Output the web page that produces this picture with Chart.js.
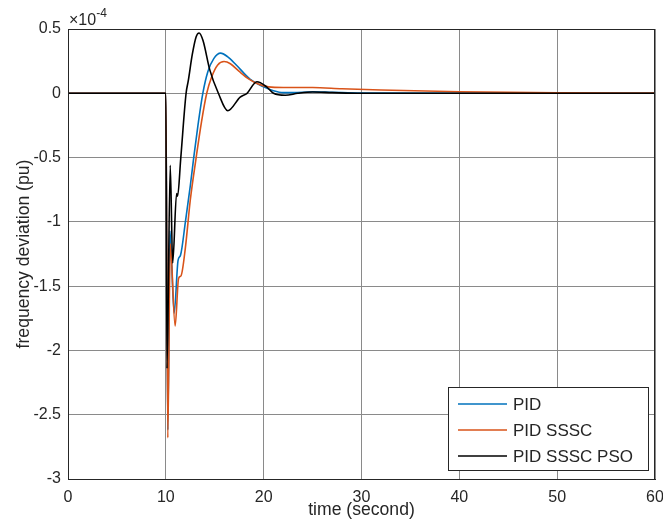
<!DOCTYPE html>
<html lang="en">

<head>
    <meta charset="UTF-8">
    <title>Frequency Deviation</title>
    <script src="https://cdn.jsdelivr.net/npm/chart.js"></script>
    <style>
        body {
            margin: 0;
            padding: 0;
            background-color: #fff;
        }

        #chartContainer {
            width: 663px;
            height: 522px;
        }
    </style>
</head>

<body>
    <div id="chartContainer">
        <canvas id="chart"></canvas>
    </div>

    <script>
        // values are in units of 1e-4 pu
        const pidTime = [0, 10, 10.2, 10.42, 10.85, 11.25, 11.5, 12.0, 12.5, 12.85, 13.3, 13.78, 14.3, 14.9, 15.6, 16.3, 17.2, 18.6, 20, 21, 22, 23, 25, 27, 30, 40, 60];
        const pidValues = [0, 0, -2.62, -1.07, -1.71, -1.30, -1.26, -1.0, -0.72, -0.5, -0.24, 0, 0.17, 0.27, 0.312, 0.285, 0.22, 0.11, 0.05, 0.02, 0.005, 0.005, 0.012, 0.008, 0.002, 0, 0];

        const ssscTime = [0, 10, 10.2, 10.45, 10.95, 11.3, 11.55, 12.0, 12.5, 13.1, 13.65, 14.18, 14.7, 15.3, 15.95, 16.6, 17.5, 18.5, 19.5, 20.5, 22, 25, 28, 32, 40, 50, 60];
        const ssscValues = [0, 0, -2.68, -1.17, -1.81, -1.44, -1.42, -1.2, -0.83, -0.5, -0.22, 0, 0.13, 0.22, 0.247, 0.23, 0.17, 0.11, 0.07, 0.05, 0.045, 0.045, 0.035, 0.025, 0.012, 0.004, 0.001];

        const psoTime = [0, 10, 10.12, 10.45, 10.7, 11.1, 11.2, 11.53, 12.07, 12.3, 12.7, 13.1, 13.4, 13.8, 14.5, 15.37, 16.33, 17.6, 18.3, 19.3, 20.3, 21.0, 22.2, 23.5, 25, 27, 30, 60];
        const psoValues = [0, 0, -2.14, -0.56, -1.32, -0.78, -0.8, -0.5, 0, 0.1, 0.3, 0.44, 0.469, 0.41, 0.18, 0, -0.136, -0.03, 0, 0.09, 0.05, 0, -0.015, 0, 0.01, 0.005, 0, 0];

        const seriesNames = ['PID', 'PID SSSC', 'PID SSSC PSO'];
        const seriesColors = ['#0072BD', '#D95319', '#000000'];

        const xTicks = [0, 10, 20, 30, 40, 50, 60];
        const yTicks = [-3, -2.5, -2, -1.5, -1, -0.5, 0, 0.5];

        const fontFamily = "'Liberation Sans', Arial, Helvetica, sans-serif";
        const textColor = '#262626';

        function toPoints(ts, vs) {
            return ts.map((t, i) => ({ x: t, y: vs[i] }));
        }

        const data = {
            datasets: [{
                label: seriesNames[0],
                data: toPoints(pidTime, pidValues),
                borderColor: seriesColors[0],
                order: 2
            }, {
                label: seriesNames[1],
                data: toPoints(ssscTime, ssscValues),
                borderColor: seriesColors[1],
                order: 1
            }, {
                label: seriesNames[2],
                data: toPoints(psoTime, psoValues),
                borderColor: seriesColors[2],
                order: 0
            }]
        };
        data.datasets.forEach(d => {
            d.borderWidth = 1.6;
            d.pointRadius = 0;
            d.fill = false;
            d.cubicInterpolationMode = 'monotone';
        });

        // box round the axes, the x10^-4 label and the legend inside the plot
        const matlabLook = {
            id: 'matlabLook',
            afterDatasetsDraw(chart) {
                const c = chart.ctx;
                const a = chart.chartArea;
                c.save();
                c.strokeStyle = textColor;
                c.lineWidth = 1;
                c.strokeRect(a.left + 0.5, a.top + 0.5, a.right - a.left - 1, a.bottom - a.top);

                // exponent label
                c.fillStyle = textColor;
                c.textBaseline = 'alphabetic';
                c.textAlign = 'left';
                c.font = '16px ' + fontFamily;
                c.fillText('\u00d710', a.left + 1, a.top - 4);
                const w = c.measureText('\u00d710').width;
                c.font = '12px ' + fontFamily;
                c.fillText('-4', a.left + 1 + w, a.top - 12);

                // legend
                const bw = 200, bh = 83;
                const bx = a.right - 7 - bw;
                const by = a.bottom - 9 - bh;
                c.fillStyle = '#fff';
                c.fillRect(bx, by, bw, bh);
                c.strokeStyle = textColor;
                c.strokeRect(bx + 0.5, by + 0.5, bw, bh);
                c.font = '17px ' + fontFamily;
                c.textBaseline = 'middle';
                chart.data.datasets.forEach((d, i) => {
                    const y = by + 17 + i * 26;
                    c.strokeStyle = d.borderColor;
                    c.lineWidth = 1.6;
                    c.beginPath();
                    c.moveTo(bx + 10, y);
                    c.lineTo(bx + 59, y);
                    c.stroke();
                    c.fillStyle = textColor;
                    c.fillText(d.label, bx + 65, y + 1);
                });
                c.restore();
            }
        };

        const options = {
            responsive: false,
            animation: false,
            layout: {
                padding: { left: 0, right: 8, top: 29, bottom: 0 }
            },
            plugins: {
                legend: { display: false },
                tooltip: { enabled: false }
            },
            scales: {
                x: {
                    type: 'linear',
                    min: 0,
                    max: 60,
                    afterBuildTicks: s => { s.ticks = xTicks.map(v => ({ value: v })); },
                    afterFit: s => { s.height = 43; s.paddingLeft = 0; s.paddingRight = 0; },
                    grid: { color: '#8a8a8a', drawTicks: false },
                    border: { color: textColor },
                    ticks: {
                        color: textColor,
                        padding: 9,
                        maxRotation: 0,
                        font: { family: fontFamily, size: 16 }
                    },
                    title: {
                        display: true,
                        text: 'time (second)',
                        color: textColor,
                        padding: { top: 0, bottom: 1 },
                        font: { family: fontFamily, size: 17.6 }
                    }
                },
                y: {
                    type: 'linear',
                    min: -3,
                    max: 0.5,
                    afterBuildTicks: s => { s.ticks = yTicks.map(v => ({ value: v })); },
                    afterFit: s => { s.width = 68; s.paddingTop = 0; s.paddingBottom = 0; },
                    grid: { color: '#8a8a8a', drawTicks: false },
                    border: { color: textColor },
                    ticks: {
                        color: textColor,
                        padding: 7,
                        font: { family: fontFamily, size: 16 },
                        callback: v => String(+v.toFixed(1))
                    },
                    title: {
                        display: true,
                        text: 'frequency deviation (pu)',
                        color: textColor,
                        padding: { top: 14, bottom: 0 },
                        font: { family: fontFamily, size: 17.6 }
                    }
                }
            }
        };

        const canvas = document.getElementById('chart');
        canvas.width = 663;
        canvas.height = 522;
        const chart = new Chart(canvas.getContext('2d'), {
            type: 'line',
            data: data,
            options: options,
            plugins: [matlabLook]
        });
    </script>
</body>

</html>
